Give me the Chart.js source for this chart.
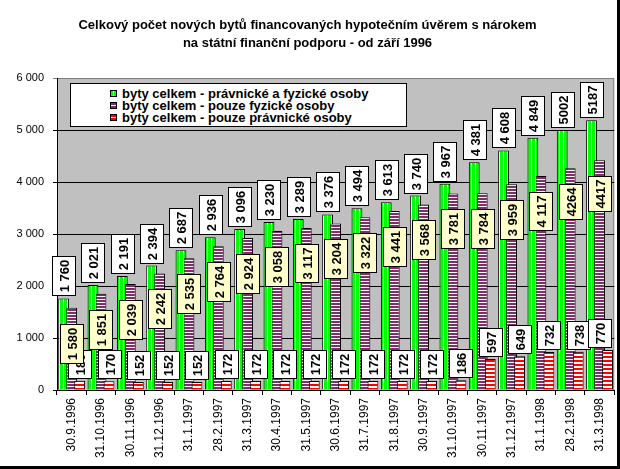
<!DOCTYPE html>
<html>
<head>
<meta charset="utf-8">
<script src="https://cdn.jsdelivr.net/npm/chart.js@4/dist/chart.umd.min.js"></script>
<style>
html, body { margin: 0; padding: 0; background: #fff; }
#wrap { position: relative; width: 617px; height: 466px; border-right: 3px solid #000; border-bottom: 3px solid #000; }
canvas { display: block; }
#legend { position: absolute; left: 70px; top: 83px; width: 337px; height: 44px; border: 1px solid #000; background: #fff;
  font: bold 13px "Liberation Sans", Arial, sans-serif; color: #000; padding-top: 4px; box-sizing: border-box; }
#legend div { position: relative; height: 12px; line-height: 12px; padding-left: 51px; white-space: nowrap; }
#legend span { position: absolute; left: 39px; top: 2px; width: 5px; height: 5px; border: 1px solid #000; }
</style>
</head>
<body>
<div id="wrap">
  <canvas id="graf" width="617" height="466"></canvas>
  <div id="legend"></div>
</div>
<script>
// data
var titulek = ['Celkový počet nových bytů financovaných hypotečním úvěrem s nárokem',
               'na státní finanční podporu - od září 1996'];
var datumy = ['30.9.1996', '31.10.1996', '30.11.1996', '31.12.1996', '31.1.1997', '28.2.1997', '31.3.1997',
              '30.4.1997', '31.5.1997', '30.6.1997', '31.7.1997', '31.8.1997', '30.9.1997', '31.10.1997',
              '30.11.1997', '31.12.1997', '31.1.1998', '28.2.1998', '31.3.1998'];
var bytyCelkem = [1760, 2021, 2191, 2394, 2687, 2936, 3096, 3230, 3289, 3376, 3494, 3613, 3740, 3967,
                  4381, 4608, 4849, 5002, 5187];
var fyzickeOsoby = [1580, 1851, 2039, 2242, 2535, 2764, 2924, 3058, 3117, 3204, 3322, 3441, 3568, 3781,
                    3784, 3959, 4117, 4264, 4417];
var pravnickeOsoby = [180, 170, 152, 152, 152, 172, 172, 172, 172, 172, 172, 172, 172, 186,
                      597, 649, 732, 738, 770];
var nazvyRad = ['byty celkem - právnické a fyzické osoby',
                'byty celkem - pouze fyzické osoby',
                'byty celkem - pouze právnické osoby'];
// poslední dva měsíce jsou v tabulce bez oddělovače tisíců
var bezMezeryOd = 17;

var pismo = '"Liberation Sans", Arial, sans-serif';

function tisice(v) {
    return String(v).replace(/\B(?=(\d{3})+(?!\d))/g, ' ');
}

function vzor(w, h, barva, bile) {
    var c = document.createElement('canvas');
    c.width = w; c.height = h;
    var g = c.getContext('2d');
    g.fillStyle = barva;
    g.fillRect(0, 0, w, h);
    g.fillStyle = '#fff';
    g.fillRect(bile[0], bile[1], bile[2], bile[3]);
    return g.createPattern(c, 'repeat');
}

var zelena = vzor(4, 1, '#00ff00', [3, 0, 1, 1]);
var fialova = vzor(1, 3, '#7e2f6b', [0, 2, 1, 1]);
var cervena = vzor(1, 4, '#ff0000', [0, 2, 1, 2]);

/** pozadí plochy grafu */
var plocha = {
    id: 'plocha',
    beforeDraw: function (chart) {
        var a = chart.chartArea, c = chart.ctx;
        c.save();
        c.fillStyle = '#c0c0c0';
        c.fillRect(a.left, a.top, a.width, a.height);
        c.strokeStyle = '#808080';
        c.lineWidth = 1;
        c.beginPath();
        c.moveTo(a.left, a.top + 0.5);
        c.lineTo(a.right - 0.5, a.top + 0.5);
        c.lineTo(a.right - 0.5, a.bottom);
        c.stroke();
        c.restore();
    }
};

/** sloupce kreslit zleva doprava, aby se překrývaly jako v Excelu */
var poradi = {
    id: 'poradi',
    beforeDatasetsDraw: function (chart) {
        var a = chart.chartArea, c = chart.ctx;
        for (var i = 0; i < chart.data.datasets.length; i++) {
            c.save();
            c.beginPath();
            c.rect(a.left, a.top, a.width, a.height);
            c.clip();
            chart.getDatasetMeta(i).controller.draw();
            c.restore();
        }
        return false;
    }
};

/** popisky hodnot v rámečcích */
var popisky = {
    id: 'popisky',
    afterDraw: function (chart) {
        var c = chart.ctx;
        var pravyOkraj = chart.chartArea.right - 3;
        c.save();
        c.font = 'bold 13px ' + pismo;
        c.textAlign = 'center';
        c.textBaseline = 'middle';
        c.lineWidth = 1;
        [0, 2, 1].forEach(function (di) {
            var ds = chart.data.datasets[di];
            chart.getDatasetMeta(di).data.forEach(function (bar, i) {
                var v = ds.data[i];
                var txt = i >= bezMezeryOd ? String(v) : tisice(v);
                var len = Math.round(c.measureText(txt).width + 6);
                var br = 23;
                var x0 = Math.round(Math.min(bar.x - br / 2, pravyOkraj - br)) + 0.5;
                var y0 = ds.popisUvnitr ? Math.round(bar.y + 16) + 0.5 : Math.round(bar.y - 3 - len) + 0.5;
                c.fillStyle = ds.popisPozadi;
                c.fillRect(x0, y0, br, len);
                c.strokeStyle = '#000';
                c.strokeRect(x0, y0, br, len);
                c.save();
                c.translate(x0 + br / 2, y0 + len / 2);
                c.rotate(-Math.PI / 2);
                c.fillStyle = '#000';
                c.fillText(txt, 0, 1);
                c.restore();
            });
        });
        c.restore();
    }
};

var barvyLegendy = [
    'linear-gradient(90deg, #00ff00 0 2px, #fff 2px 3px, #00ff00 3px)',
    'linear-gradient(180deg, #7e2f6b 0 2px, #fff 2px 3px, #7e2f6b 3px)',
    'linear-gradient(180deg, #ff0000 0 2px, #fff 2px 3px, #ff0000 3px)'
];

var graf = new Chart(document.getElementById('graf').getContext('2d'), {
    type: 'bar',
    data: {
        labels: datumy,
        datasets: [
            { label: nazvyRad[0], data: bytyCelkem, backgroundColor: zelena, borderColor: '#000', borderWidth: 1,
              popisPozadi: '#ffffff', popisUvnitr: false },
            { label: nazvyRad[1], data: fyzickeOsoby, backgroundColor: fialova, borderColor: '#000', borderWidth: 1,
              popisPozadi: '#ffffcc', popisUvnitr: true },
            { label: nazvyRad[2], data: pravnickeOsoby, backgroundColor: cervena, borderColor: '#000', borderWidth: 1,
              popisPozadi: '#ffffff', popisUvnitr: false }
        ]
    },
    options: {
        responsive: false,
        animation: false,
        events: [],
        layout: { padding: { left: 0, right: 2, top: 0, bottom: 0 } },
        datasets: { bar: { categoryPercentage: 0.82, barPercentage: 1.35 } },
        plugins: {
            legend: { display: false },
            tooltip: { enabled: false },
            title: {
                display: true,
                text: titulek,
                color: '#000',
                font: { family: pismo, size: 13, weight: 'bold', lineHeight: 1.385 },
                padding: { top: 16, bottom: 26 }
            }
        },
        scales: {
            x: {
                offset: true,
                grid: { offset: true, drawOnChartArea: false, color: '#000', tickLength: 5 },
                border: { color: '#000' },
                ticks: { color: '#000', font: { family: pismo, size: 12 }, minRotation: 90, maxRotation: 90,
                         autoSkip: false, padding: 3 },
                afterFit: function (s) { s.height = 76; }
            },
            y: {
                min: 0,
                max: 6000,
                grid: {
                    color: function (ctx) { return ctx.tick && ctx.tick.value === 6000 ? '#808080' : '#000'; },
                    tickLength: 4
                },
                border: { color: '#000' },
                ticks: { stepSize: 1000, color: '#000', font: { family: pismo, size: 11 }, padding: 9,
                         callback: function (v) { return tisice(v); } },
                afterFit: function (s) { s.width = 57; }
            }
        }
    },
    plugins: [plocha, poradi, popisky]
});

var legenda = document.getElementById('legend');
graf.data.datasets.forEach(function (ds, i) {
    var radek = document.createElement('div');
    var ctverec = document.createElement('span');
    ctverec.style.background = barvyLegendy[i];
    radek.appendChild(ctverec);
    radek.appendChild(document.createTextNode(ds.label));
    legenda.appendChild(radek);
});
</script>
</body>
</html>
